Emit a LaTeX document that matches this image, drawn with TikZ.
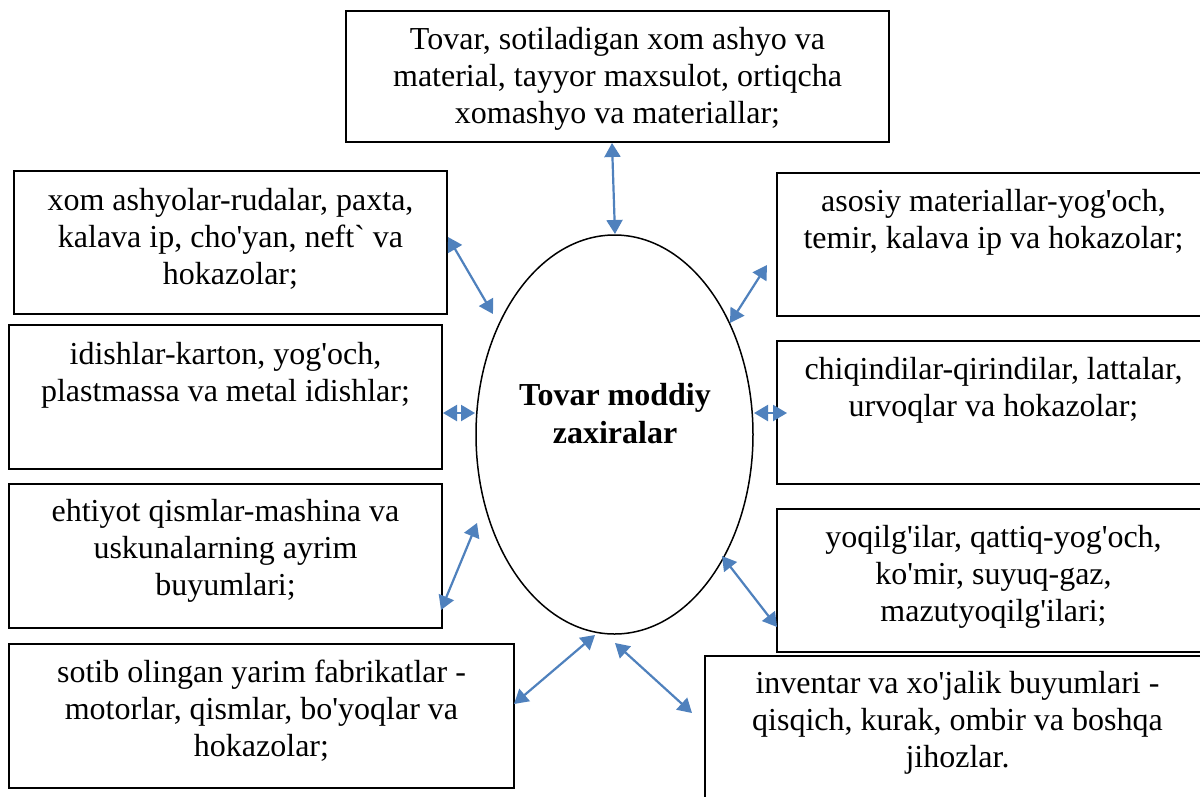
\documentclass[tikz,border=0pt]{standalone}
\usepackage{fontspec}
\setmainfont{Liberation Serif}[Ligatures=TeXOff]
\usetikzlibrary{arrows.meta,shapes.geometric}
\definecolor{arrowblue}{RGB}{79,129,189}
\tikzset{
  box/.style={draw=black, line width=1.5pt, rectangle, inner sep=0pt, minimum height=143pt},
  boxtext/.style={align=center, inner sep=0pt, font=\fontsize{32}{37}\selectfont},
  link/.style={draw=arrowblue, line width=2.2pt, {Triangle[length=14pt,width=16pt]}-{Triangle[length=14pt,width=16pt]}}
}
\begin{document}
\begin{tikzpicture}[x=1pt,y=-1pt]
\useasboundingbox (0,0) rectangle (1200,796);
\clip (0,0) rectangle (1200,796);
\fill[white] (0,0) rectangle (1200,796);

% boxes
\node[box, minimum width=543pt, minimum height=131pt] (top) at (617.5,76.5) {};
\node[box, minimum width=433pt] (xom) at (230.5,242.5) {};
\node[box, minimum width=433pt, minimum height=144pt] (idish) at (225.5,397) {};
\node[box, minimum width=433pt, minimum height=144pt] (ehti) at (225.5,556) {};
\node[box, minimum width=505pt, minimum height=144pt] (sotib) at (261.5,716) {};
\node[box, minimum width=433pt] (asos) at (993.5,244.5) {};
\node[box, minimum width=433pt] (chiq) at (993.5,412.5) {};
\node[box, minimum width=433pt] (yoq) at (993.5,580.5) {};
\node[box, minimum width=505pt, minimum height=144pt] (inv) at (957.5,728) {};

% texts
\node[boxtext] (topT) at (617.5,79) {Tovar, sotiladigan xom ashyo va\\material, tayyor maxsulot, ortiqcha\\xomashyo va materiallar;};
\node[boxtext] (xomT) at (230.5,239) {xom ashyolar-rudalar, paxta,\\kalava ip, cho'yan, neft` va\\hokazolar;};
\node[boxtext] (idishT) at (225.5,375) {idishlar-karton, yog'och,\\plastmassa va metal idishlar;};
\node[boxtext] (ehtiT) at (225.5,551) {ehtiyot qismlar-mashina va\\uskunalarning ayrim\\buyumlari;};
\node[boxtext] (sotibT) at (261.5,711) {sotib olingan yarim fabrikatlar -\\motorlar, qismlar, bo'yoqlar va\\hokazolar;};
\node[boxtext] (asosT) at (993.5,222) {asosiy materiallar-yog'och,\\temir, kalava ip va hokazolar;};
\node[boxtext] (chiqT) at (993.5,390) {chiqindilar-qirindilar, lattalar,\\urvoqlar va hokazolar;};
\node[boxtext] (yoqT) at (993.5,577) {yoqilg'ilar, qattiq-yog'och,\\ko'mir, suyuq-gaz,\\mazutyoqilg'ilari;};
\node[boxtext] (invT) at (957.5,723) {inventar va xo'jalik buyumlari -\\qisqich, kurak, ombir va boshqa\\jihozlar.};

% ellipse
\node[ellipse, draw=black, line width=1.5pt, minimum width=277pt, minimum height=399pt, inner sep=0pt] (ell) at (614.5,434.5) {};
\node[boxtext, font=\fontsize{32}{38}\selectfont\bfseries] (ellT) at (615,414) {Tovar moddiy\\zaxiralar};

% connector end points
\coordinate (pTop) at (612,143);   \coordinate (eTop) at (615,234);
\coordinate (pXom) at (448,237);   \coordinate (eXom) at (493,314);
\coordinate (pIdi) at (443,413);   \coordinate (eIdi) at (475,413);
\coordinate (pEht) at (441,610);   \coordinate (eEht) at (477,523);
\coordinate (pSot) at (514,704);   \coordinate (eSot) at (595,635);
\coordinate (pInv) at (692,713);   \coordinate (eInv) at (615,643);
\coordinate (pYoq) at (777,627);   \coordinate (eYoq) at (722,556);
\coordinate (pChi) at (787,413);   \coordinate (eChi) at (754,413);
\coordinate (pAso) at (767,265);   \coordinate (eAso) at (730,323);

% connectors
\draw[link] (pTop) -- (eTop);
\draw[link] (pXom) -- (eXom);
\draw[link] (pIdi) -- (eIdi);
\draw[link] (pEht) -- (eEht);
\draw[link] (pSot) -- (eSot);
\draw[link] (pInv) -- (eInv);
\draw[link] (pYoq) -- (eYoq);
\draw[link] (pChi) -- (eChi);
\draw[link] (pAso) -- (eAso);
\end{tikzpicture}
\end{document}
